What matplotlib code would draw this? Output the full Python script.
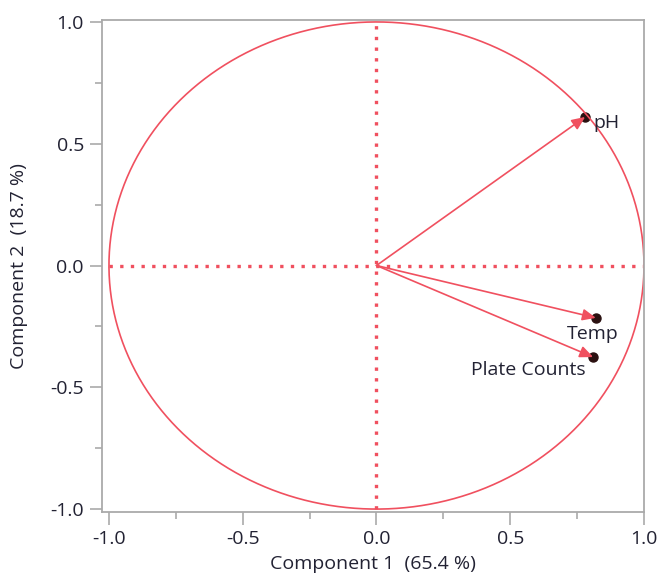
import numpy as np
import matplotlib
matplotlib.use("Agg")
import matplotlib.pyplot as plt
from matplotlib.ticker import MultipleLocator

plt.rcParams['font.family'] = ['Open Sans', 'DejaVu Sans']

variables = ["pH", "Temp", "Plate Counts"]
comp1 = [0.78, 0.82, 0.81]
comp2 = [0.61, -0.215, -0.376]
xlabel = "Component 1  (65.4 %)"
ylabel = "Component 2  (18.7 %)"

red = '#F0505F'
gray = '#AAAAAA'
txt = '#222233'
fs = 14

fig = plt.figure(figsize=(6.63, 5.74), dpi=100)
ax = fig.add_axes([102/663, 1-512/574, (644-102)/663, (512-20)/574])
ax.set_xlim(-1.026, 1.0)
ax.set_ylim(-1.012, 1.008)

t = np.linspace(0, 2*np.pi, 400)
ax.plot(np.cos(t), np.sin(t), color=red, lw=1.2, zorder=2)
ax.plot([-1, 1], [0, 0], color=red, lw=2.4, ls=(0, (1, 2.2)), zorder=2)
ax.plot([0, 0], [-1, 1], color=red, lw=2.4, ls=(0, (1, 2.2)), zorder=2)

for name, x, y in zip(variables, comp1, comp2):
    ax.plot([x], [y], 'o', color='#2a1010', ms=6.5, zorder=1.5)
    ann = ax.annotate('', xy=(x, y), xytext=(0, 0),
                      arrowprops=dict(arrowstyle='-|>,head_length=0.8,head_width=0.35',
                                      color=red, lw=1.2, shrinkA=0, shrinkB=0))
    ann.set_zorder(4)
    ann.arrow_patch.set_zorder(4)

ax.text(comp1[0] + 0.03, comp2[0] - 0.025, variables[0], ha='left', va='center', fontsize=fs, color=txt)
ax.text(comp1[1] - 0.01, comp2[1] - 0.03, variables[1], ha='center', va='top', fontsize=fs, color=txt)
ax.text(comp1[2] - 0.03, comp2[2] - 0.015, variables[2], ha='right', va='top', fontsize=fs, color=txt)

ticks = np.arange(-1, 1.01, 0.5)
ax.set_xticks(ticks)
ax.set_yticks(ticks)
ax.set_xticklabels([f"{v:.1f}" for v in ticks])
ax.set_yticklabels([f"{v:.1f}" for v in ticks])
ax.xaxis.set_minor_locator(MultipleLocator(0.25))
ax.yaxis.set_minor_locator(MultipleLocator(0.25))
ax.tick_params(which='major', length=9, color=gray, width=1.2, labelsize=fs, labelcolor=txt, pad=4)
ax.tick_params(which='minor', length=5, color=gray, width=1.2)
for s in ax.spines.values():
    s.set_color(gray)
    s.set_linewidth(1.3)

ax.set_xlabel(xlabel, fontsize=fs, color=txt, labelpad=5)
ax.set_ylabel(ylabel, fontsize=fs, color=txt, labelpad=16)

fig.savefig('out.png', dpi=100)
